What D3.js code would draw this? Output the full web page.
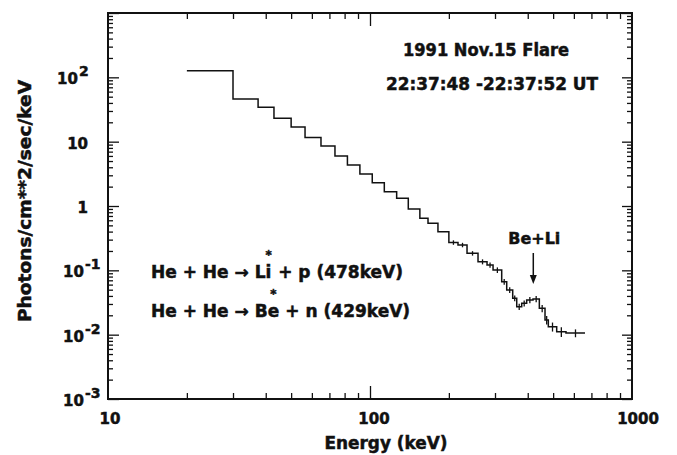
<!DOCTYPE html>
<html>
<head>
<meta charset="utf-8">
<script src="https://cdn.jsdelivr.net/npm/d3@7"></script>
<style>
  body { margin: 0; background: #fff; }
  text { font-family: "DejaVu Sans", sans-serif; font-weight: bold; fill: #111; stroke: #111; stroke-width: 0.5px; }
</style>
</head>
<body>
<div id="chart"></div>
<script>
// energy bin edges (keV); last one is the upper edge of the last bin
const binEdges = [20, 30, 37.4, 43, 50, 56.5, 65, 73.5, 82, 91.5, 102, 113.4, 126.4, 140, 155,
    166.5, 181.7, 200, 216.7, 234.6, 258.4, 279.7, 294.9, 318.2, 332.5, 350.5, 363.1, 379.3,
    396.3, 419, 442.9, 465.6, 479.3, 515.9, 559.8, 661.6];
// photons/cm^2/sec/keV in each bin
const flux = [127, 46, 34.2, 23.1, 16.9, 11.6, 8.57, 5.98, 4.34, 3.15, 2.30, 1.67, 1.32, 0.90,
    0.644, 0.539, 0.399, 0.271, 0.248, 0.184, 0.136, 0.121, 0.101, 0.0666, 0.0495, 0.0368,
    0.0272, 0.0307, 0.0346, 0.0359, 0.0257, 0.0169, 0.0133, 0.0111, 0.0106];
// relative error, 0 = no bar drawn
const fluxErr = [0, 0, 0, 0, 0, 0, 0, 0, 0, 0, 0, 0, 0, 0, 0, 0, 0,
    0.08, 0.08, 0.08, 0.09, 0.09, 0.1, 0.1, 0.1, 0.1, 0.11, 0.11, 0.11, 0.11, 0.13, 0.15, 0.16, 0.17, 0.14];

const xTickValues = [10, 100, 1000];
const xTickLabels = ["10", "100", "1000"];
const yTickValues = [1e-3, 1e-2, 1e-1, 1, 10, 100];
const yTickLabels = [["10", "-3"], ["10", "-2"], ["10", "-1"], ["1", ""], ["10", ""], ["10", "2"]];

const lineEnergy = 420;   // Be+Li feature
const titleLines = ["1991 Nov.15 Flare", "22:37:48 -22:37:52 UT"];
// reaction notes: [before star, after star]
const reactions = [["He + He \u2192 Li", " + p (478keV)"], ["He + He \u2192 Be", " + n (429keV)"]];

class SpectrumPlot {
    constructor(width, height) {
        this.width = width;
        this.height = height;
        this.left = 108; this.right = 632; this.top = 13; this.bottom = 399;
    }

    plot(element_id) {
        d3.select(element_id).selectAll("svg").remove();
        this.svg = d3.select(element_id).append("svg")
            .attr("width", this.width).attr("height", this.height);
        this.svg.append("rect").attr("width", this.width).attr("height", this.height).attr("fill", "#fff");
        this._setScale();
        this._addTicks();
        this._addTickLabels();
        this._addHistogram();
        this._addNotes();
        this._addFrame();
    }

    _setScale() {
        this.x = d3.scaleLog().domain([10, 1000]).range([this.left, this.right]);
        this.y = d3.scaleLog().domain([1e-3, 1e3]).range([this.bottom, this.top]);
    }

    _tickGroup(axis, tx, ty) {
        let g = this.svg.append("g")
            .attr("transform", "translate(" + tx + "," + ty + ")")
            .call(axis.tickFormat("").tickSizeOuter(0));
        g.select(".domain").remove();
        g.selectAll("line").attr("stroke", "#111").attr("stroke-width", 1.3);
    }

    _addTicks() {
        let xMinor = [];
        [10, 100].forEach(d => { for (let k = 2; k <= 9; k++) xMinor.push(k * d); });
        let yMinor = [];
        d3.range(-3, 3).forEach(p => { for (let k = 2; k <= 9; k++) yMinor.push(k * Math.pow(10, p)); });
        let yMajor = yTickValues.concat([1000]);

        this._tickGroup(d3.axisBottom(this.x).tickValues(xMinor).tickSizeInner(-6), 0, this.bottom);
        this._tickGroup(d3.axisBottom(this.x).tickValues([100]).tickSizeInner(-13), 0, this.bottom);
        this._tickGroup(d3.axisTop(this.x).tickValues(xMinor).tickSizeInner(-6), 0, this.top);
        this._tickGroup(d3.axisTop(this.x).tickValues([100]).tickSizeInner(-13), 0, this.top);

        this._tickGroup(d3.axisLeft(this.y).tickValues(yMinor).tickSizeInner(-5), this.left, 0);
        this._tickGroup(d3.axisLeft(this.y).tickValues(yMajor).tickSizeInner(-11), this.left, 0);
        this._tickGroup(d3.axisRight(this.y).tickValues(yMinor).tickSizeInner(-5), this.right, 0);
        this._tickGroup(d3.axisRight(this.y).tickValues(yMajor).tickSizeInner(-10), this.right, 0);
    }

    _addFrame() {
        this.svg.append("rect")
            .attr("x", this.left).attr("y", this.top)
            .attr("width", this.right - this.left).attr("height", this.bottom - this.top)
            .attr("fill", "none").attr("stroke", "#111").attr("stroke-width", 2);
    }

    _addTickLabels() {
        let x = this.x, y = this.y;
        this.svg.append("g").selectAll("text")
            .data(xTickValues).enter().append("text")
            .attr("x", d => x(d) + (d == 10 ? 2 : d == 100 ? 4 : 6))
            .attr("y", 424)
            .attr("text-anchor", "middle")
            .style("font-size", "15px")
            .text((d, i) => xTickLabels[i]);

        let g = this.svg.append("g");
        yTickValues.forEach((v, i) => {
            let lab = yTickLabels[i];
            if (lab[1] == "") {
                g.append("text").attr("x", 88).attr("y", y(v) + 7)
                    .attr("text-anchor", "end").style("font-size", "15px").text(lab[0]);
            } else {
                let t = g.append("text").attr("x", v == 100 ? 57 : 63).attr("y", y(v) + 7)
                    .style("font-size", "15px");
                t.append("tspan").text(lab[0]);
                t.append("tspan").attr("dx", 1).attr("dy", -8).style("font-size", "14px").text(lab[1]);
            }
        });

        this.svg.append("text")
            .attr("x", 386).attr("y", 449)
            .attr("text-anchor", "middle")
            .attr("textLength", 123).attr("lengthAdjust", "spacingAndGlyphs")
            .style("font-size", "17px")
            .text("Energy (keV)");

        this.svg.append("text")
            .attr("transform", "translate(31,201) rotate(-90)")
            .attr("text-anchor", "middle")
            .attr("textLength", 242).attr("lengthAdjust", "spacingAndGlyphs")
            .style("font-size", "18.5px")
            .text("Photons/cm**2/sec/keV");
    }

    _addHistogram() {
        let x = this.x, y = this.y;
        let n = flux.length;
        let points = binEdges.map((e, i) => [e, flux[Math.min(i, n - 1)]]);
        let line = d3.line().x(d => x(d[0])).y(d => y(d[1])).curve(d3.curveStepAfter);
        this.svg.append("path")
            .attr("d", line(points))
            .attr("fill", "none").attr("stroke", "#111").attr("stroke-width", 1.5);

        let bars = flux.map((v, i) => ({
            e: Math.sqrt(binEdges[i] * binEdges[i + 1]), v: v, err: fluxErr[i]
        })).filter(d => d.err > 0);
        this.svg.append("g").selectAll("line")
            .data(bars).enter().append("line")
            .attr("x1", d => x(d.e)).attr("x2", d => x(d.e))
            .attr("y1", d => y(d.v * (1 + d.err))).attr("y2", d => y(d.v * (1 - d.err)))
            .attr("stroke", "#111").attr("stroke-width", 1.3);
    }

    _addNotes() {
        let x = this.x;
        this.svg.append("text").attr("x", 486).attr("y", 56).attr("text-anchor", "middle")
            .attr("textLength", 166).attr("lengthAdjust", "spacingAndGlyphs")
            .style("font-size", "17px").text(titleLines[0]);
        this.svg.append("text").attr("x", 492).attr("y", 90).attr("text-anchor", "middle")
            .attr("textLength", 212).attr("lengthAdjust", "spacingAndGlyphs")
            .style("font-size", "17px").text(titleLines[1]);

        // Be+Li marker
        let ax = x(lineEnergy);
        this.svg.append("text").attr("x", ax + 1).attr("y", 244).attr("text-anchor", "middle")
            .attr("textLength", 52).attr("lengthAdjust", "spacingAndGlyphs")
            .style("font-size", "16px").text("Be+Li");
        this.svg.append("line")
            .attr("x1", ax).attr("x2", ax).attr("y1", 253).attr("y2", 276)
            .attr("stroke", "#111").attr("stroke-width", 1.5);
        this.svg.append("path")
            .attr("d", "M" + (ax - 3.5) + ",275 L" + (ax + 3.5) + ",275 L" + ax + ",284 Z")
            .attr("fill", "#111");

        // the star sits over the last letter, so it goes back, up, then returns
        this._reaction(reactions[0], 278, -5.9, 0.5);
        this._reaction(reactions[1], 317, -8.8, 2.8);
    }

    _reaction(parts, baseline, back, fwd) {
        let t = this.svg.append("text").attr("x", 151).attr("y", baseline)
            .style("font-size", "17px");
        t.append("tspan").text(parts[0]);
        t.append("tspan").attr("dx", back).attr("dy", -19).style("font-size", "12px").text("*");
        t.append("tspan").attr("dx", fwd).attr("dy", 19).text(parts[1]);
    }
}

let chart = new SpectrumPlot(677, 455);
chart.plot("#chart");
</script>
</body>
</html>
